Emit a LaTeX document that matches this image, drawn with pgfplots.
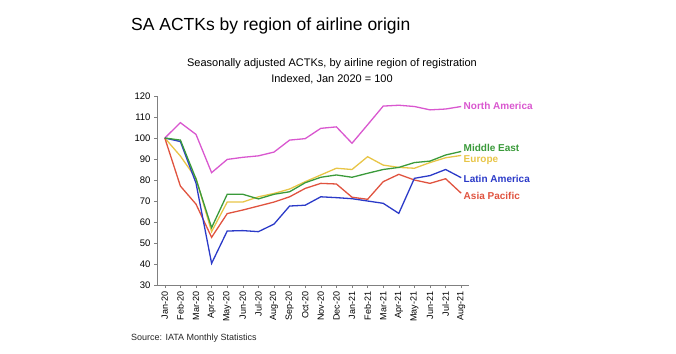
\documentclass[border=0pt]{standalone}
\usepackage{pgfplots}
\pgfplotsset{compat=1.18}
\usepackage{fontspec}
\setmainfont{Liberation Sans}
\definecolor{cNA}{HTML}{D957CF}
\definecolor{cME}{HTML}{3A9A3A}
\definecolor{cEU}{HTML}{E8C547}
\definecolor{cLA}{HTML}{2B3AC8}
\definecolor{cAP}{HTML}{E0533F}
\definecolor{axgray}{HTML}{808080}
\begin{document}
\begin{tikzpicture}[x=1pt,y=1pt]
\path[use as bounding box] (0,0) rectangle (676,353);
\node[anchor=base west,font=\fontsize{17.5}{20}\selectfont,inner sep=0pt] at (131,322) {SA ACTKs by region of airline origin};
\node[anchor=base,font=\fontsize{11}{12}\selectfont] at (332,286) {Seasonally adjusted ACTKs, by airline region of registration};
\node[anchor=base,font=\fontsize{11}{12}\selectfont] at (332,270) {Indexed, Jan 2020 = 100};
\node[anchor=base west,font=\fontsize{9}{10}\selectfont,text=black!85,inner sep=0pt] at (131,13) {Source: IATA Monthly Statistics};
\begin{axis}[
  at={(157pt,68pt)}, anchor=south west,
  scale only axis, width=312pt, height=189pt,
  xmin=-0.5, xmax=19.5, ymin=30, ymax=120,
  ytick={30,40,...,120},
  xtick={0,...,19},
  xticklabels={Jan-20,Feb-20,Mar-20,Apr-20,May-20,Jun-20,Jul-20,Aug-20,Sep-20,Oct-20,Nov-20,Dec-20,Jan-21,Feb-21,Mar-21,Apr-21,May-21,Jun-21,Jul-21,Aug-21},
  x tick label style={rotate=90,anchor=east,font=\fontsize{9}{10}\selectfont},
  y tick label style={font=\fontsize{9.5}{10}\selectfont},
  /pgf/number format/assume math mode=true,
  axis x line*=bottom, axis y line*=left,
  axis line style={axgray,line width=0.8pt},
  tick style={axgray,line width=0.6pt},
  tick align=outside,
  major tick length=3pt,
  clip=false,
  every axis plot/.append style={line width=1.3pt, mark=none},
]
\addplot[cNA] coordinates {(0,100)(1,107.3)(2,101.7)(3,83.5)(4,89.8)(5,90.8)(6,91.5)(7,93.3)(8,99)(9,99.7)(10,104.6)(11,105.3)(12,97.5)(13,106.3)(14,115.2)(15,115.6)(16,115)(17,113.4)(18,113.8)(19,115)};
\addplot[cEU] coordinates {(0,100)(1,91.4)(2,80.8)(3,55.4)(4,69.5)(5,69.5)(6,72)(7,73.6)(8,75.7)(9,79.2)(10,82.4)(11,85.6)(12,85)(13,91.1)(14,87.1)(15,86)(16,85.6)(17,88.3)(18,90.6)(19,91.7)};
\addplot[cAP] coordinates {(0,100)(1,77.1)(2,68.5)(3,52.7)(4,64)(5,65.7)(6,67.6)(7,69.5)(8,72)(9,76)(10,78.4)(11,78.1)(12,71.8)(13,70.8)(14,79.2)(15,82.7)(16,80)(17,78.4)(18,80.6)(19,73.7)};
\addplot[cLA] coordinates {(0,100)(1,98.3)(2,78.5)(3,40.3)(4,55.7)(5,55.9)(6,55.4)(7,59)(8,67.6)(9,68)(10,72)(11,71.6)(12,71.1)(13,70)(14,68.9)(15,64.1)(16,80.8)(17,82.1)(18,85)(19,81.1)};
\addplot[cME] coordinates {(0,100)(1,99)(2,80.5)(3,57.3)(4,73.2)(5,73.2)(6,71)(7,73.2)(8,74.4)(9,78.7)(10,81.3)(11,82.4)(12,81.3)(13,83.2)(14,85)(15,86)(16,88.3)(17,89)(18,91.9)(19,93.6)};
\begin{scope}[every node/.style={anchor=west,inner sep=0pt,font=\fontsize{10}{11}\selectfont\bfseries}]
\node[text=cNA] at (axis cs:19.15,115.5) {North America};
\node[text=cME] at (axis cs:19.15,95.3) {Middle East};
\node[text=cEU] at (axis cs:19.15,89.6) {Europe};
\node[text=cLA] at (axis cs:19.15,80.5) {Latin America};
\node[text=cAP] at (axis cs:19.15,72.5) {Asia Pacific};
\end{scope}
\end{axis}
\end{tikzpicture}
\end{document}
